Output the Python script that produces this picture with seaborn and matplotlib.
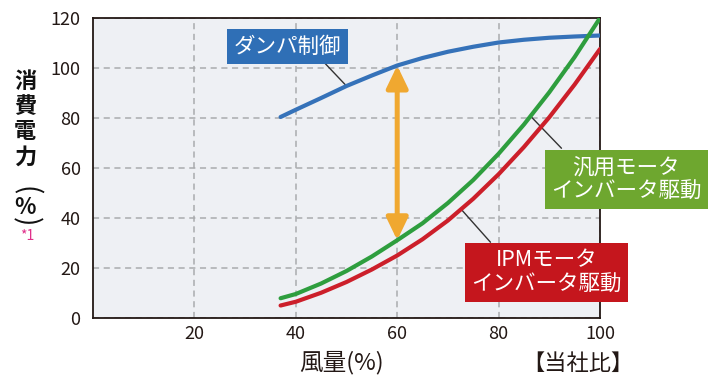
import matplotlib
matplotlib.use("Agg")
import matplotlib.pyplot as plt
import seaborn as sns
import pandas as pd
import numpy as np

# values
airflow = [37, 40, 45, 50, 55, 60, 65, 70, 75, 80, 85, 90, 95, 100]
damper = [80.4, 83.3, 88, 92.8, 97, 101, 104, 106.5, 108.5, 110.2, 111.3, 112.1, 112.6, 113]
general_inv = [7.9, 9.6, 13.8, 18.8, 24.6, 31.1, 37.9, 46.0, 55.2, 65.7, 77.4, 90.3, 104.4, 120]
ipm_inv = [5.0, 6.5, 10.1, 14.4, 19.4, 25.0, 31.5, 39.0, 47.7, 57.5, 68.4, 80.3, 93.4, 107.6]

series = ["ダンパ制御", "汎用モータ\nインバータ駆動", "IPMモータ\nインバータ駆動"]
x_ticks = [20, 40, 60, 80, 100]
y_ticks = [0, 20, 40, 60, 80, 100, 120]
y_label_chars = ["消", "費", "電", "力", "(", "%", ")"]

line_colors = ["#3572b9", "#2e9e3e", "#cc1f2a"]
box_colors = ["#2f6fb6", "#6ea72f", "#c5161d"]
ink = "#231815"

sns.set_style("white")
plt.rcParams["font.family"] = ["Noto Sans CJK JP", "DejaVu Sans"]

df = pd.DataFrame({
    "風量": airflow * 3,
    "消費電力": damper + general_inv + ipm_inv,
    "方式": [series[0]] * len(airflow) + [series[1]] * len(airflow) + [series[2]] * len(airflow),
})

fig = plt.figure(figsize=(7.2, 3.8), dpi=100)
ax = fig.add_axes([93 / 720, 1 - 318 / 380, 507 / 720, 300 / 380])
ax.set_facecolor("#eef0f4")

sns.lineplot(data=df, x="風量", y="消費電力", hue="方式", palette=dict(zip(series, line_colors)),
             linewidth=3.0, legend=False, sort=False, ax=ax, zorder=3)

ax.set_xlim(0, 100)
ax.set_ylim(0, 120)
ax.set_xticks(x_ticks)
ax.set_yticks(y_ticks)
ax.tick_params(length=0, labelsize=13, colors=ink)
ax.tick_params(axis="y", pad=9)
ax.tick_params(axis="x", pad=5)
ax.grid(True, color="#a9abae", linestyle=(0, (4, 3)), linewidth=1.1)
for s in ax.spines.values():
    s.set_color(ink)
    s.set_linewidth(1.3)

ax.set_xlabel("")
ax.set_ylabel("")

# orange double arrow between damper and general inverter at 60%
i60 = airflow.index(60)
ax.annotate("", xy=(60, damper[i60]), xytext=(60, general_inv[i60]),
            arrowprops=dict(arrowstyle="<|-|>,head_length=1.35,head_width=0.65",
                            color="#f0a830", lw=3.6, shrinkA=0, shrinkB=0), zorder=4)

# leader lines
lead_kw = dict(arrowstyle="-", color="#333333", lw=1.0, shrinkA=0, shrinkB=0)
ax.annotate("", xy=(50, damper[airflow.index(50)]), xytext=(45.7, 102), arrowprops=lead_kw, zorder=2)
ax.annotate("", xy=(86.3, np.interp(86.3, airflow, general_inv)), xytext=(92.4, 67.9),
            arrowprops=lead_kw, zorder=2)
ax.annotate("", xy=(72.6, np.interp(72.6, airflow, ipm_inv)), xytext=(78.4, 30.3),
            arrowprops=lead_kw, zorder=2)

# label boxes
label_pos = [(38.4, 108.6), (105.2, 55.4), (89.5, 18.3)]
for name, (tx, ty), bc in zip(series, label_pos, box_colors):
    ax.text(tx, ty, name, color="white", fontsize=15.5, ha="center", va="center",
            linespacing=1.15, zorder=6, clip_on=False,
            bbox=dict(boxstyle="square,pad=0.3", fc=bc, ec="none"))

# axis titles
ax.text((341 - 93) / 507, -45 / 300, "風量(%)", transform=ax.transAxes, ha="center", va="center",
        fontsize=17, color=ink)
ax.text((578 - 93) / 507, -45 / 300, "【当社比】", transform=ax.transAxes, ha="center", va="center",
        fontsize=16, color=ink)

y_centers = [82, 107, 132, 157, 191, 207, 222]
for ch, yc in zip(y_label_chars, y_centers):
    paren = ch in "()"
    fig.text(25 / 720, 1 - yc / 380, ch, ha="center", va="center", fontsize=20 if paren else 16,
             fontweight="normal" if paren else "bold", color="#111111", rotation=-90 if paren else 0)
fig.text(27 / 720, 1 - 236 / 380, "*1", ha="center", va="center", fontsize=10, color="#e0308a")

fig.savefig("out.png", dpi=100)
